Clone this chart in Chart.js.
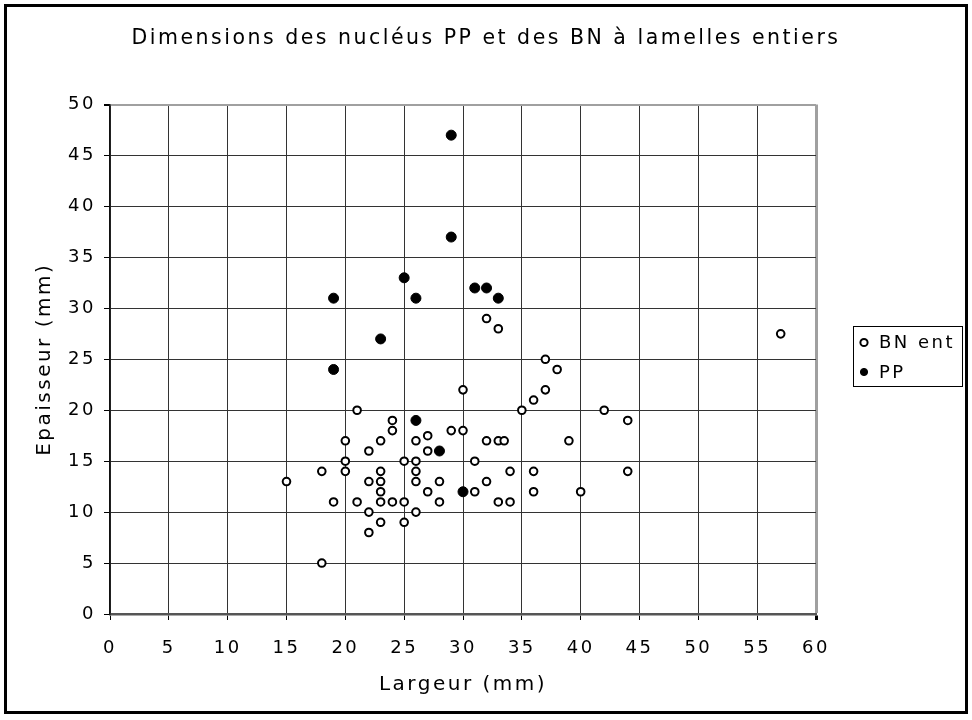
<!DOCTYPE html>
<html>
<head>
<meta charset="utf-8">
<script src="https://cdn.jsdelivr.net/npm/chart.js@4.4.0/dist/chart.umd.min.js"></script>
<style>
    html, body { margin: 0; padding: 0; background: #fff; }
    #chartBox { width: 972px; height: 720px; }
</style>
</head>
<body>
<div id="chartBox"><canvas id="nucleusChart" width="972" height="720"></canvas></div>
<script>
// BN à lamelles entiers : largeur / épaisseur (mm)
const bnLargeur = [15, 18, 18, 19, 20, 20, 20, 21, 21, 22, 22, 22, 22, 23, 23, 23, 23, 23, 23, 24, 24, 24,
    25, 25, 25, 26, 26, 26, 26, 26, 27, 27, 27, 28, 28, 29, 30, 30, 31, 31, 32, 32, 32, 33, 33, 33.5, 33,
    34, 34, 35, 36, 36, 36, 37, 37, 38, 39, 40, 42, 44, 44, 57];
const bnEpaisseur = [13, 14, 5, 11, 17, 15, 14, 20, 11, 16, 13, 10, 8, 17, 14, 13, 12, 11, 9, 19, 18, 11,
    15, 11, 9, 17, 15, 14, 13, 10, 17.5, 16, 12, 13, 11, 18, 22, 18, 15, 12, 29, 17, 13, 28, 17, 17, 11,
    14, 11, 20, 21, 14, 12, 25, 22, 24, 17, 12, 20, 19, 14, 27.5];

// nucléus PP
const ppLargeur = [19, 19, 23, 25, 26, 26, 28, 29, 29, 30, 31, 32, 33];
const ppEpaisseur = [31, 24, 27, 33, 31, 19, 16, 47, 37, 12, 32, 32, 31];

const seriesNames = ['BN ent', 'PP'];
const xTickValues = [0, 5, 10, 15, 20, 25, 30, 35, 40, 45, 50, 55, 60];
const yTickValues = [0, 5, 10, 15, 20, 25, 30, 35, 40, 45, 50];

const FONT = "'DejaVu Sans', Verdana, sans-serif";
const SPACING = '2.5px';

function toPoints(xs, ys) {
    return xs.map((x, i) => ({ x: x, y: ys[i] }));
}

// canvas letter spacing, white background and the outer frame
const pageFrame = {
    id: 'pageFrame',
    beforeLayout(chart) {
        chart.ctx.letterSpacing = SPACING;
    },
    beforeDraw(chart) {
        const ctx = chart.ctx;
        ctx.save();
        ctx.fillStyle = '#fff';
        ctx.fillRect(0, 0, chart.width, chart.height);
        ctx.restore();
        ctx.letterSpacing = SPACING;
    },
    afterDraw(chart) {
        const ctx = chart.ctx;
        ctx.save();
        ctx.strokeStyle = '#000';
        ctx.lineWidth = 3;
        ctx.strokeRect(5.5, 5.5, 961, 707);
        ctx.restore();
    }
};

// boxed legend to the right of the plot
const legendBox = {
    id: 'legendBox',
    afterDraw(chart) {
        const { ctx, chartArea } = chart;
        const w = 109, h = 60;
        const left = chartArea.right + 37;
        const top = Math.round((chartArea.top + chartArea.bottom) / 2 - h / 2 - 3);
        ctx.save();
        ctx.letterSpacing = SPACING;
        ctx.strokeStyle = '#000';
        ctx.lineWidth = 1;
        ctx.strokeRect(left + 0.5, top + 0.5, w, h);
        ctx.font = '18px ' + FONT;
        ctx.textBaseline = 'middle';
        chart.data.datasets.forEach((ds, i) => {
            const cy = top + 16.5 + i * 29.5;
            ctx.beginPath();
            ctx.arc(left + 11, cy, 3.6, 0, Math.PI * 2);
            ctx.fillStyle = ds.pointBackgroundColor;
            ctx.fill();
            ctx.lineWidth = i === 0 ? 2 : 1;
            ctx.strokeStyle = ds.pointBorderColor;
            ctx.stroke();
            ctx.fillStyle = '#000';
            ctx.fillText(ds.label, left + 26, cy + 1);
        });
        ctx.restore();
    }
};

const ctx = document.getElementById('nucleusChart');

new Chart(ctx, {
    type: 'scatter',
    data: {
        datasets: [{
            label: seriesNames[0],
            data: toPoints(bnLargeur, bnEpaisseur),
            pointRadius: 3.8,
            pointBorderWidth: 2,
            pointBackgroundColor: '#fff',
            pointBorderColor: '#000'
        }, {
            label: seriesNames[1],
            data: toPoints(ppLargeur, ppEpaisseur),
            pointRadius: 5,
            pointBorderWidth: 1,
            pointBackgroundColor: '#000',
            pointBorderColor: '#000'
        }]
    },
    options: {
        responsive: false,
        animation: false,
        devicePixelRatio: 1,
        layout: { padding: 0 },
        plugins: {
            legend: { display: false },
            tooltip: { enabled: false },
            title: {
                display: true,
                text: 'Dimensions des nucléus PP et des BN à lamelles entiers',
                color: '#000',
                font: { family: FONT, size: 20.5, weight: 'normal' },
                padding: { top: 26, bottom: 54 }
            }
        },
        scales: {
            x: {
                type: 'linear',
                min: 0,
                max: 60,
                afterBuildTicks: (scale) => { scale.ticks = xTickValues.map(v => ({ value: v })); },
                afterFit: (scale) => { scale.height = 106; },
                ticks: {
                    color: '#000',
                    padding: 18,
                    font: { family: FONT, size: 18 },
                    maxRotation: 0
                },
                grid: {
                    color: (c) => c.tick && c.tick.value === 60 ? '#a0a0a0' : '#333',
                    lineWidth: (c) => c.tick && c.tick.value === 60 ? 3 : 1,
                    tickColor: '#000',
                    tickLength: 6
                },
                border: { color: '#555', width: 2.5 },
                title: {
                    display: true,
                    text: 'Largeur (mm)',
                    color: '#000',
                    font: { family: FONT, size: 20 },
                    padding: { top: 0, bottom: 23 }
                }
            },
            y: {
                type: 'linear',
                min: 0,
                max: 50,
                afterBuildTicks: (scale) => { scale.ticks = yTickValues.map(v => ({ value: v })); },
                afterFit: (scale) => { scale.width = 110; },
                ticks: {
                    color: '#000',
                    padding: 8,
                    font: { family: FONT, size: 18 }
                },
                grid: {
                    color: (c) => c.tick && c.tick.value === 50 ? '#a0a0a0' : '#333',
                    lineWidth: (c) => c.tick && c.tick.value === 50 ? 2 : 1,
                    tickColor: '#000',
                    tickLength: 6
                },
                border: { color: '#111', width: 1.5 },
                title: {
                    display: true,
                    text: 'Epaisseur (mm)',
                    color: '#000',
                    font: { family: FONT, size: 20 },
                    padding: { top: 33, bottom: 0 }
                }
            },
            // empty right-hand axis that keeps room for the legend box
            legendSpace: {
                type: 'linear',
                position: 'right',
                min: 0,
                max: 50,
                afterFit: (scale) => { scale.width = 156; },
                ticks: { display: false },
                grid: { display: false, drawTicks: false },
                border: { display: false }
            }
        }
    },
    plugins: [pageFrame, legendBox]
});
</script>
</body>
</html>
